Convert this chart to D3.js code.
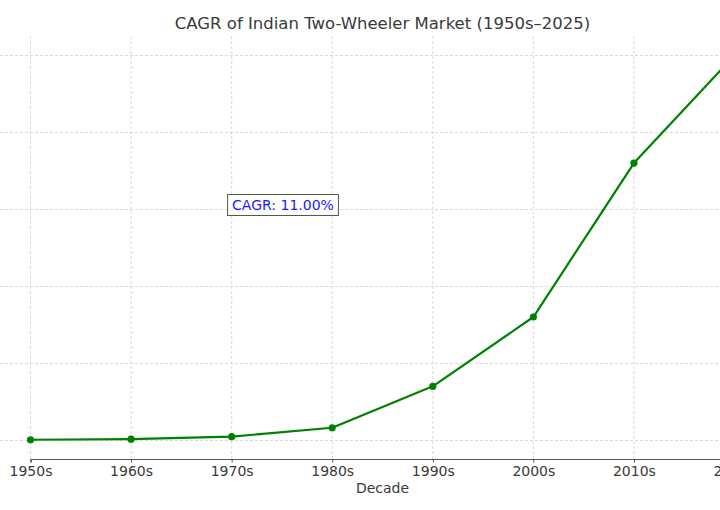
<!DOCTYPE html>
<html>
<head>
<meta charset="utf-8">
<script src="https://cdn.jsdelivr.net/npm/d3@7"></script>
<style>
html,body{margin:0;padding:0;background:#fff;overflow:hidden;}
svg{display:block;font-family:"DejaVu Sans",sans-serif;}
</style>
</head>
<body>
<svg id="chart" width="720" height="510"></svg>
<script>
const decades = ["1950s","1960s","1970s","1980s","1990s","2000s","2010s","2020s"];
const values = [0.03, 0.07, 0.23, 0.81, 3.5, 8.0, 18.0, 25.0];
const yTicks = [0, 5, 10, 15, 20, 25];
const titleText = "CAGR of Indian Two-Wheeler Market (1950s–2025)";
const xLabel = "Decade";
const annotation = "CAGR: 11.00%";

(function () {
const svg = d3.select("#chart");
// plot area (partly outside the visible window, as in the reference crop)
const pLeft = -5, pRight = 770, pTop = 36, pBottom = 459;

const x = d3.scalePoint().domain(decades).range([30.5, 734.5]);
const y = d3.scaleLinear().domain([-1.22, 26.25]).range([pBottom, pTop]);

const textColor = "#3a3a3a";

// grid
const grid = svg.append("g");
grid.selectAll("line.h").data(yTicks).join("line")
  .attr("x1", pLeft).attr("x2", pRight)
  .attr("y1", d => Math.round(y(d)) + 0.5).attr("y2", d => Math.round(y(d)) + 0.5)
  .attr("stroke", "#d0d0d0").attr("stroke-width", 0.8).attr("stroke-dasharray", "3,2");
grid.selectAll("line.v").data(decades).join("line")
  .attr("x1", d => x(d)).attr("x2", d => x(d))
  .attr("y1", pTop).attr("y2", pBottom)
  .attr("stroke", "#d0d0d0").attr("stroke-width", 0.8).attr("stroke-dasharray", "3,2");

// x axis
const xAxis = svg.append("g").attr("transform", `translate(0,${pBottom})`)
  .call(d3.axisBottom(x).tickSize(3.5).tickPadding(4));
xAxis.select(".domain").attr("stroke", "#555").attr("stroke-width", 1.2);
xAxis.selectAll(".tick line").attr("stroke", "#555");
xAxis.selectAll(".tick text").attr("fill", textColor).style("font-size", "14px")
  .style("font-family", "DejaVu Sans");

// line
const line = d3.line().x((d, i) => x(decades[i])).y(d => y(d));
svg.append("path").datum(values)
  .attr("d", line).attr("fill", "none")
  .attr("stroke", "#008000").attr("stroke-width", 2.2).attr("stroke-linejoin", "round");
svg.selectAll("circle.pt").data(values).join("circle")
  .attr("cx", (d, i) => x(decades[i])).attr("cy", d => y(d))
  .attr("r", 3.6).attr("fill", "#008000");

// title
svg.append("text").attr("x", (pLeft + pRight) / 2).attr("y", 29)
  .attr("text-anchor", "middle").attr("fill", textColor)
  .style("font-size", "16.5px").text(titleText);

// x label
svg.append("text").attr("x", (pLeft + pRight) / 2).attr("y", 493)
  .attr("text-anchor", "middle").attr("fill", textColor)
  .style("font-size", "14px").text(xLabel);

// annotation
const ann = svg.append("g");
const at = ann.append("text").attr("x", 283).attr("y", 210)
  .attr("text-anchor", "middle").attr("fill", "#1a1aff")
  .style("font-size", "14px").text(annotation);
const bb = at.node().getBBox();
ann.insert("rect", "text")
  .attr("x", bb.x - 4.5).attr("y", bb.y - 2.5)
  .attr("width", bb.width + 9).attr("height", bb.height + 5)
  .attr("fill", "#fff").attr("stroke", "#555").attr("stroke-width", 1);
})();
</script>
</body>
</html>
